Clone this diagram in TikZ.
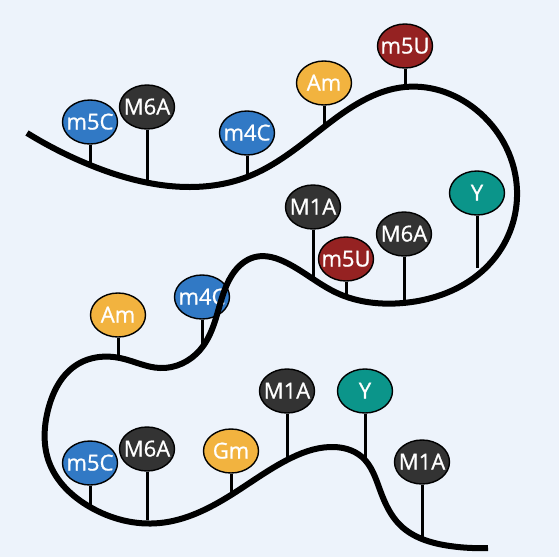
\documentclass[tikz,border=0pt]{standalone}
\usepackage{fontspec}
\setmainfont{Open Sans}
\newfontfamily\modfont{Open Sans}[FakeBold=0.9]
\usetikzlibrary{shapes.geometric,hobby}
\definecolor{bg}{HTML}{EDF3FB}
\definecolor{mblue}{HTML}{3179C5}
\definecolor{mdark}{HTML}{333333}
\definecolor{myellow}{HTML}{F2B33F}
\definecolor{mred}{HTML}{952222}
\definecolor{mteal}{HTML}{0B958A}
\newcommand\modtxt[1]{\makebox[0pt]{#1}}
\pgfdeclarelayer{back}
\pgfdeclarelayer{stems}
\pgfsetlayers{back,stems,main}
\begin{document}
\begin{tikzpicture}[x=1pt,y=-1pt,
  mod/.style={ellipse, draw=black, line width=1.4pt, minimum width=55pt, minimum height=44pt,
    inner sep=0pt, text=white, font=\modfont\fontsize{22}{22}\selectfont, text height=15pt, text depth=0pt},
  blue/.style={mod, fill=mblue}, dark/.style={mod, fill=mdark}, yel/.style={mod, fill=myellow},
  red/.style={mod, fill=mred}, teal/.style={mod, fill=mteal},
  stem/.style={line width=3pt},
  strand/.style={line width=6pt, line join=round}]
\begin{pgfonlayer}{back}
\fill[bg] (0,0) rectangle (559,557);
\end{pgfonlayer}
\useasboundingbox (0,0) rectangle (559,557);
% modification nodes
\node[blue] (t1) at (90,122) {\modtxt{m5C}};
\node[dark] (t2) at (147,107) {\modtxt{M6A}};
\node[blue] (t3) at (247,133) {\modtxt{m4C}};
\node[yel]  (t4) at (324,83) {\modtxt{Am}};
\node[red]  (t5) at (405,46) {\modtxt{m5U}};
\node[dark] (u1) at (313,207) {\modtxt{M1A}};
\node[red]  (u2) at (346,259) {\modtxt{m5U}};
\node[dark] (u3) at (404,234) {\modtxt{M6A}};
\node[teal] (u4) at (477,193) {\modtxt{Y}};
\node[blue] (u5) at (202,297) {\modtxt{m4C}};
\node[yel]  (u6) at (118,315) {\modtxt{Am}};
\node[blue] (b1) at (90,463) {\modtxt{m5C}};
\node[dark] (b2) at (147,449) {\modtxt{M6A}};
\node[yel]  (b3) at (231,451) {\modtxt{Gm}};
\node[dark] (b4) at (287,391) {\modtxt{M1A}};
\node[teal] (b5) at (365,391) {\modtxt{Y}};
\node[dark] (b6) at (422,462) {\modtxt{M1A}};
% contact points on the strand
\coordinate (ct1) at (90,165);
\coordinate (ct2) at (147,183);
\coordinate (ct3) at (247,177);
\coordinate (ct4) at (324,127);
\coordinate (ct5) at (405,87);
\coordinate (cu1) at (313,278);
\coordinate (cu2) at (346,297);
\coordinate (cu3) at (404,303);
\coordinate (cu4) at (477,268);
\coordinate (cu5) at (202,345);
\coordinate (cu6) at (118,358);
\coordinate (cb1) at (90,507);
\coordinate (cb2) at (147,520);
\coordinate (cb3) at (231,495);
\coordinate (cb4) at (287,460);
\coordinate (cb5) at (365,460);
\coordinate (cb6) at (422,537);
\begin{pgfonlayer}{stems}
\foreach \n in {t1,t2,t3,t4,t5,u1,u2,u3,u4,u5,u6,b1,b2,b3,b4,b5,b6}
  \draw[stem] (\n.south) -- (c\n);
\end{pgfonlayer}
% RNA strand
\draw[strand, use Hobby shortcut] (27,133) .. (90,165) .. (190,187) .. (247,177) .. (324,127)
 .. (405,87) .. (480,113) .. (517,190) .. (493,260) .. (403,303) .. (337,293) .. (287,263)
 .. (255,257) .. (232,275) .. (216,318) .. (200,350) .. (160,368) .. (120,358) .. (78,364)
 .. (48,410) .. (49,462) .. (90,507) .. (160,523) .. (231,495) .. (287,460) .. (330,447)
 .. (362,457) .. (380,490) .. (400,525) .. (450,546) .. (488,548);
\end{tikzpicture}
\end{document}
